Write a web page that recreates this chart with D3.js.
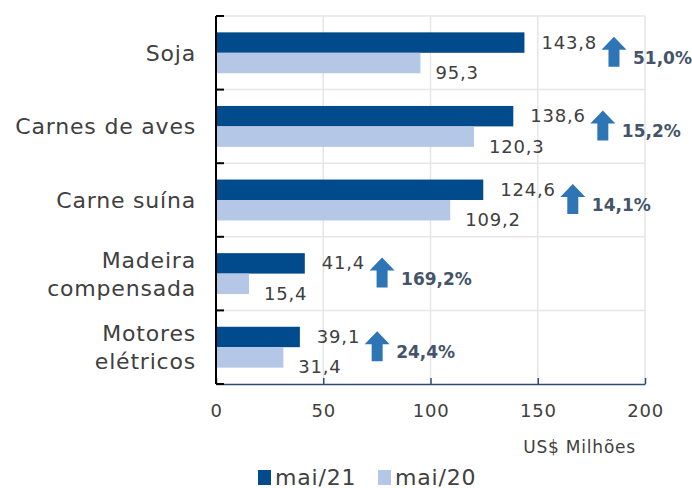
<!DOCTYPE html>
<html>
<head>
<meta charset="utf-8">
<script src="https://cdn.jsdelivr.net/npm/d3@7"></script>
<style>
  body { margin: 0; background: #fff; }
  text { font-family: "DejaVu Sans", sans-serif; }
</style>
</head>
<body>
<div id="chart"></div>
<script>
const categories = [["Soja"], ["Carnes de aves"], ["Carne suína"], ["Madeira", "compensada"], ["Motores", "elétricos"]];
const may21 = [143.8, 138.6, 124.6, 41.4, 39.1];
const may20 = [95.3, 120.3, 109.2, 15.4, 31.4];
const growth = ["51,0%", "15,2%", "14,1%", "169,2%", "24,4%"];
const xTicks = [0, 50, 100, 150, 200];

const showViz = () => {
  const width = 692, height = 488;
  const m = {left: 216, right: 47, top: 16, bottom: 104};

  const svg = d3.select("#chart").append("svg")
      .attr("width", width).attr("height", height);

  const x = d3.scaleLinear().domain([0, 200]).range([m.left, width - m.right]);
  const y = d3.scaleBand().domain(d3.range(categories.length))
      .range([m.top, height - m.bottom]);
  const inner = d3.scaleBand().domain([0, 1]).range([0, y.bandwidth()]).paddingOuter(0.8).paddingInner(0);

  const fmt = v => d3.format(".1f")(v).replace(".", ",");
  const grey = "#404040";

  // grid
  svg.append("g").selectAll("line").data(xTicks.slice(1)).join("line")
      .attr("x1", d => x(d)).attr("x2", d => x(d))
      .attr("y1", m.top).attr("y2", height - m.bottom)
      .attr("stroke", "#e6e6e6").attr("stroke-width", 1.5);
  svg.append("g").selectAll("line").data(d3.range(categories.length)).join("line")
      .attr("x1", m.left).attr("x2", x(200))
      .attr("y1", d => y(d)).attr("y2", d => y(d))
      .attr("stroke", "#e6e6e6").attr("stroke-width", 1.5);

  // bars
  const rows = svg.append("g").selectAll("g").data(d3.range(categories.length)).join("g")
      .attr("transform", i => `translate(0,${y(i)})`);
  rows.append("rect")
      .attr("x", x(0)).attr("y", inner(0))
      .attr("width", i => x(may21[i]) - x(0)).attr("height", inner.bandwidth())
      .attr("fill", "#014a8c");
  rows.append("rect")
      .attr("x", x(0)).attr("y", inner(1))
      .attr("width", i => x(may20[i]) - x(0)).attr("height", inner.bandwidth())
      .attr("fill", "#b4c7e7");

  // value labels
  rows.append("text")
      .attr("class", "v21")
      .attr("x", i => x(may21[i]) + 17).attr("y", inner(0) + inner.bandwidth() / 2 + 6)
      .attr("font-size", 18).attr("letter-spacing", 0.8).attr("fill", grey)
      .text(i => fmt(may21[i]));
  rows.append("text")
      .attr("x", i => x(may20[i]) + 15).attr("y", inner(1) + inner.bandwidth() / 2 + 16)
      .attr("font-size", 18).attr("letter-spacing", 0.8).attr("fill", grey)
      .text(i => fmt(may20[i]));

  // arrows + growth
  rows.each(function(i) {
    const g = d3.select(this);
    const lbl = g.select(".v21").node();
    const end = x(may21[i]) + 17 + lbl.getComputedTextLength();
    const cx = end + 17, cy = y.bandwidth() / 2 - 1;
    const w = 11, hw = 12.5, hh = 13, h = 15;
    g.append("path")
        .attr("d", `M${cx},${cy - h} L${cx + hw},${cy - h + hh} L${cx + w / 2},${cy - h + hh} L${cx + w / 2},${cy + h} L${cx - w / 2},${cy + h} L${cx - w / 2},${cy - h + hh} L${cx - hw},${cy - h + hh} Z`)
        .attr("fill", "#2e75b6");
    g.append("text")
        .attr("x", cx + 19).attr("y", cy + 12)
        .attr("font-family", "'Open Sans', sans-serif")
        .attr("font-size", 17).attr("font-weight", 600).attr("fill", "#44546a")
        .text(growth[i]);
  });

  // category labels
  rows.append("text")
      .attr("text-anchor", "end").attr("font-size", 22).attr("letter-spacing", 0.8).attr("fill", grey)
      .each(function(i) {
        const lines = categories[i];
        const t = d3.select(this);
        lines.forEach((s, k) => {
          t.append("tspan").attr("x", m.left - 20)
              .attr("y", y.bandwidth() / 2 + 8 + (k - (lines.length - 1) / 2) * 28)
              .text(s);
        });
      });

  // axes
  const xAxis = svg.append("g")
      .attr("transform", `translate(0,${height - m.bottom})`)
      .call(d3.axisBottom(x).tickValues(xTicks).tickSize(-6).tickPadding(20).tickSizeOuter(0));
  xAxis.select(".domain").attr("stroke", "#2f4b7c").attr("stroke-width", 1.5);
  xAxis.selectAll(".tick line").attr("stroke", "#2f4b7c").attr("stroke-width", 1.5);
  xAxis.selectAll(".tick text").attr("font-size", 18).attr("letter-spacing", 0.8).attr("fill", grey)
      .attr("font-family", "DejaVu Sans, sans-serif");

  svg.append("line")
      .attr("x1", m.left).attr("x2", m.left)
      .attr("y1", m.top).attr("y2", height - m.bottom)
      .attr("stroke", "#000").attr("stroke-width", 2);
  svg.append("g").selectAll("line").data(d3.range(categories.length + 1)).join("line")
      .attr("x1", m.left).attr("x2", m.left + 8)
      .attr("y1", d => d < categories.length ? y(d) : height - m.bottom)
      .attr("y2", d => d < categories.length ? y(d) : height - m.bottom)
      .attr("stroke", "#000").attr("stroke-width", 2);

  svg.append("text")
      .attr("x", 636).attr("y", 453).attr("text-anchor", "end")
      .attr("font-size", 17).attr("letter-spacing", 0.8).attr("fill", grey)
      .text("US$ Milhões");

  // legend
  const legend = [["mai/21", "#014a8c", 258], ["mai/20", "#b4c7e7", 378]];
  const lg = svg.append("g").selectAll("g").data(legend).join("g")
      .attr("transform", d => `translate(${d[2]},0)`);
  lg.append("rect").attr("x", 0).attr("y", 470).attr("width", 13).attr("height", 15)
      .attr("fill", d => d[1]);
  lg.append("text").attr("x", 17).attr("y", 485)
      .attr("font-size", 22).attr("letter-spacing", 0.8).attr("fill", grey)
      .text(d => d[0]);
}

showViz()
</script>
</body>
</html>
